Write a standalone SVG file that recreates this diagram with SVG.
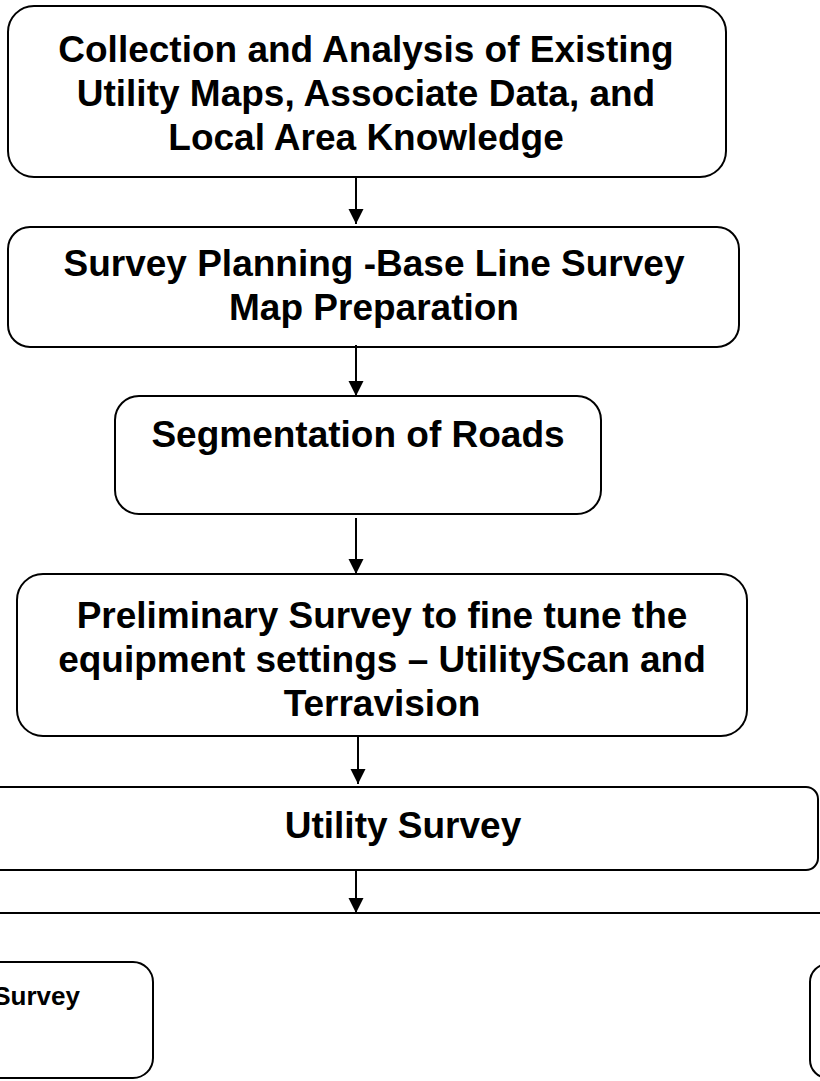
<svg xmlns="http://www.w3.org/2000/svg" width="820" height="1081" viewBox="0 0 820 1081">
<style>
.box{fill:#fff;stroke:#000;stroke-width:2}
.t{font-family:"Liberation Sans",Arial,sans-serif;font-weight:bold;font-size:37px;fill:#000;text-anchor:middle}
.s{font-family:"Liberation Sans",Arial,sans-serif;font-weight:bold;font-size:26px;fill:#000;text-anchor:end}
.ln{stroke:#000;stroke-width:2;fill:none}
</style>
<defs>
<marker id="ah" markerUnits="userSpaceOnUse" markerWidth="16" markerHeight="16" viewBox="0 0 16 16" refX="15" refY="8" orient="auto">
<path d="M0,0.5 L15,8 L0,15.5 Z" fill="#000"/>
</marker>
</defs>
<rect width="820" height="1081" fill="#fff"/>
<g id="n1">
<rect class="box" x="8" y="6" width="718" height="171" rx="26"/>
<text class="t" x="366" y="62">Collection and Analysis of Existing</text>
<text class="t" x="366" y="106">Utility Maps, Associate Data, and</text>
<text class="t" x="366" y="150">Local Area Knowledge</text>
</g>
<g id="n2">
<rect class="box" x="8" y="227" width="731" height="120" rx="22"/>
<text class="t" x="374" y="276">Survey Planning -Base Line Survey</text>
<text class="t" x="374" y="320">Map Preparation</text>
</g>
<g id="n3">
<rect class="box" x="115" y="396" width="486" height="118" rx="24"/>
<text class="t" x="358" y="447">Segmentation of Roads</text>
</g>
<g id="n4">
<rect class="box" x="17" y="574" width="730" height="162" rx="26"/>
<text class="t" x="382" y="628">Preliminary Survey to fine tune the</text>
<text class="t" x="382" y="672">equipment settings – UtilityScan and</text>
<text class="t" x="382" y="716">Terravision</text>
</g>
<g id="n5">
<rect class="box" x="-12" y="787" width="830" height="83" rx="12"/>
<text class="t" x="403" y="838">Utility Survey</text>
</g>
<g id="n6">
<rect class="box" x="-200" y="962" width="353" height="116" rx="20"/>
<text class="s" x="80" y="1005">Survey</text>
</g>
<g id="n7">
<rect class="box" x="810" y="964" width="200" height="114" rx="18"/>
</g>
<g id="connectors">
<line class="ln" x1="356" y1="177" x2="356" y2="224" marker-end="url(#ah)"/>
<line class="ln" x1="356" y1="345" x2="356" y2="396" marker-end="url(#ah)"/>
<line class="ln" x1="356" y1="518" x2="356" y2="574" marker-end="url(#ah)"/>
<line class="ln" x1="358" y1="736" x2="358" y2="784" marker-end="url(#ah)"/>
<line class="ln" x1="356" y1="870" x2="356" y2="913" marker-end="url(#ah)"/>
<line class="ln" x1="0" y1="913" x2="820" y2="913"/>
</g>
</svg>
